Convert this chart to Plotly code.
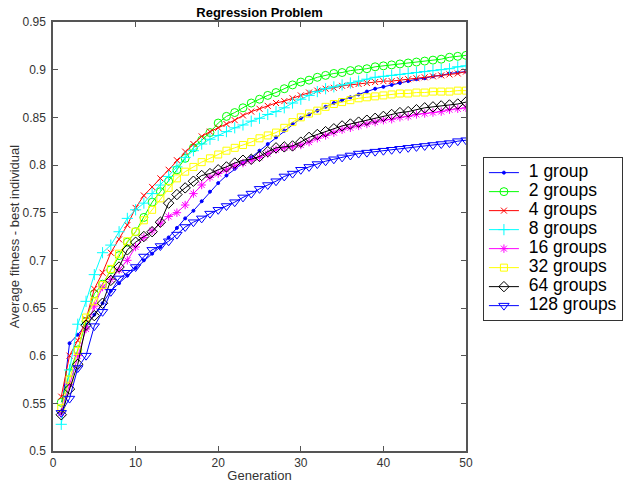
import plotly.graph_objects as go

generations = list(range(1, 51))

g1 = [0.540, 0.613, 0.622, 0.632, 0.643, 0.655, 0.668, 0.676, 0.684, 0.692,
      0.700, 0.707, 0.714, 0.724, 0.734, 0.744, 0.752, 0.762, 0.772, 0.781,
      0.789, 0.796, 0.802, 0.808, 0.815, 0.822, 0.829, 0.836, 0.843, 0.849,
      0.853, 0.857, 0.861, 0.865, 0.868, 0.871, 0.874, 0.877, 0.880, 0.882,
      0.884, 0.886, 0.888, 0.890, 0.891, 0.893, 0.894, 0.896, 0.897, 0.898]
g2 = [0.551, 0.582, 0.606, 0.636, 0.665, 0.675, 0.690, 0.705, 0.719, 0.730,
      0.745, 0.761, 0.772, 0.783, 0.795, 0.807, 0.818, 0.826, 0.834, 0.844,
      0.851, 0.855, 0.860, 0.865, 0.869, 0.873, 0.876, 0.880, 0.884, 0.887,
      0.889, 0.892, 0.894, 0.896, 0.897, 0.899, 0.900, 0.901, 0.903, 0.904,
      0.905, 0.906, 0.907, 0.908, 0.909, 0.910, 0.911, 0.913, 0.914, 0.915]
g4 = [0.557, 0.600, 0.616, 0.638, 0.670, 0.687, 0.708, 0.722, 0.737, 0.755,
      0.768, 0.777, 0.786, 0.795, 0.805, 0.814, 0.822, 0.830, 0.835, 0.839,
      0.843, 0.847, 0.852, 0.856, 0.859, 0.862, 0.865, 0.867, 0.870, 0.873,
      0.876, 0.878, 0.880, 0.881, 0.883, 0.884, 0.885, 0.886, 0.887, 0.888,
      0.888, 0.889, 0.890, 0.891, 0.892, 0.893, 0.894, 0.895, 0.896, 0.898]
g8 = [0.528, 0.585, 0.633, 0.657, 0.685, 0.708, 0.716, 0.730, 0.744, 0.753,
      0.760, 0.770, 0.779, 0.788, 0.798, 0.808, 0.815, 0.822, 0.827, 0.831,
      0.835, 0.839, 0.842, 0.846, 0.849, 0.853, 0.856, 0.860, 0.865, 0.869,
      0.873, 0.877, 0.880, 0.882, 0.884, 0.886, 0.888, 0.890, 0.892, 0.893,
      0.894, 0.895, 0.896, 0.897, 0.898, 0.899, 0.900, 0.901, 0.903, 0.904]
g16 = [0.540, 0.570, 0.600, 0.628, 0.652, 0.672, 0.680, 0.690, 0.700, 0.714,
       0.724, 0.731, 0.739, 0.746, 0.750, 0.758, 0.770, 0.779, 0.787, 0.791,
       0.795, 0.799, 0.802, 0.805, 0.808, 0.812, 0.816, 0.818, 0.819, 0.821,
       0.824, 0.828, 0.831, 0.834, 0.837, 0.839, 0.841, 0.843, 0.845, 0.847,
       0.848, 0.850, 0.851, 0.853, 0.854, 0.855, 0.856, 0.858, 0.859, 0.860]
g32 = [0.545, 0.575, 0.605, 0.640, 0.657, 0.674, 0.691, 0.707, 0.720, 0.730,
       0.742, 0.753, 0.765, 0.776, 0.786, 0.793, 0.798, 0.803, 0.807, 0.811,
       0.815, 0.818, 0.821, 0.824, 0.828, 0.831, 0.834, 0.839, 0.845, 0.850,
       0.854, 0.857, 0.861, 0.864, 0.866, 0.868, 0.870, 0.871, 0.872, 0.873,
       0.874, 0.875, 0.875, 0.876, 0.876, 0.877, 0.877, 0.877, 0.878, 0.878]
g64 = [0.538, 0.565, 0.591, 0.632, 0.642, 0.655, 0.679, 0.693, 0.711, 0.719,
       0.725, 0.730, 0.740, 0.760, 0.769, 0.776, 0.783, 0.789, 0.791, 0.795,
       0.798, 0.802, 0.805, 0.806, 0.809, 0.814, 0.818, 0.819, 0.820, 0.824,
       0.829, 0.832, 0.835, 0.838, 0.841, 0.843, 0.845, 0.847, 0.849, 0.851,
       0.853, 0.855, 0.856, 0.858, 0.860, 0.861, 0.862, 0.863, 0.864, 0.866]
g128 = [0.540, 0.555, 0.587, 0.600, 0.631, 0.646, 0.667, 0.681, 0.687, 0.693,
        0.704, 0.711, 0.715, 0.720, 0.727, 0.735, 0.740, 0.744, 0.749, 0.753,
        0.757, 0.761, 0.766, 0.770, 0.775, 0.779, 0.783, 0.788, 0.791, 0.795,
        0.798, 0.801, 0.804, 0.806, 0.808, 0.810, 0.812, 0.813, 0.814, 0.815,
        0.816, 0.817, 0.818, 0.819, 0.820, 0.821, 0.822, 0.823, 0.825, 0.826]

series_names = ["1 group", "2 groups", "4 groups", "8 groups",
                "16 groups", "32 groups", "64 groups", "128 groups"]
series_values = [g1, g2, g4, g8, g16, g32, g64, g128]
colors = ["#0000FF", "#00FF00", "#FF0000", "#00FFFF",
          "#FF00FF", "#FFFF00", "#000000", "#0000FF"]
symbols = ["circle", "circle-open", "x-thin-open", "cross-thin-open",
           "asterisk-open", "square-open", "diamond-open", "triangle-down-open"]
sizes = [3, 8, 6, 8, 7, 7, 8, 9]

x_ticks = [0, 10, 20, 30, 40, 50]
y_ticks = [0.5, 0.55, 0.6, 0.65, 0.7, 0.75, 0.8, 0.85, 0.9, 0.95]
y_tick_text = ["0.5", "0.55", "0.6", "0.65", "0.7", "0.75", "0.8", "0.85", "0.9", "0.95"]

FONT = "Liberation Sans, Arial, sans-serif"

fig = go.Figure()
for name, vals, c, s, sz in zip(series_names, series_values, colors, symbols, sizes):
    fig.add_trace(go.Scatter(
        x=generations, y=vals,
        name='<span style="font-size:17.5px">\u00a0' + name + '</span>',
        mode="lines+markers",
        line=dict(color=c, width=1),
        marker=dict(symbol=s, size=sz, color=c, line=dict(color=c, width=1)),
    ))

axis_common = dict(
    showline=True, linecolor="#555555", linewidth=1.5, mirror="ticks",
    ticks="inside", ticklen=5, tickcolor="#555555", showgrid=False, zeroline=False,
    automargin=False,
    tickfont=dict(family=FONT, size=12, color="#333333"),
)

fig.update_layout(
    width=630, height=483,
    margin=dict(l=53, r=164, t=22, b=32, autoexpand=False),
    paper_bgcolor="white", plot_bgcolor="white",
    title=dict(text="<b>Regression Problem</b>", x=(53 + 466) / 2 / 630, xanchor="center",
               y=1 - 12 / 483, yanchor="middle",
               font=dict(family=FONT, size=13, color="black")),
    xaxis=dict(range=[0, 50], tickvals=x_ticks,
               title=dict(text="Generation", standoff=4,
                          font=dict(family=FONT, size=13, color="#333333")),
               **axis_common),
    yaxis=dict(range=[0.5, 0.95], tickvals=y_ticks, ticktext=y_tick_text,
               ticklabelstandoff=3,
               title=dict(text="Average fitness - best individual", standoff=0,
                          font=dict(family=FONT, size=13, color="#333333")),
               **axis_common),
    legend=dict(x=1.041, y=0.685, xanchor="left", yanchor="top",
                bordercolor="#333333", borderwidth=1, bgcolor="white",
                font=dict(family=FONT, size=12.3, color="black"),
                tracegroupgap=0, itemwidth=30),
    showlegend=True,
)

fig.write_html("out.html")
